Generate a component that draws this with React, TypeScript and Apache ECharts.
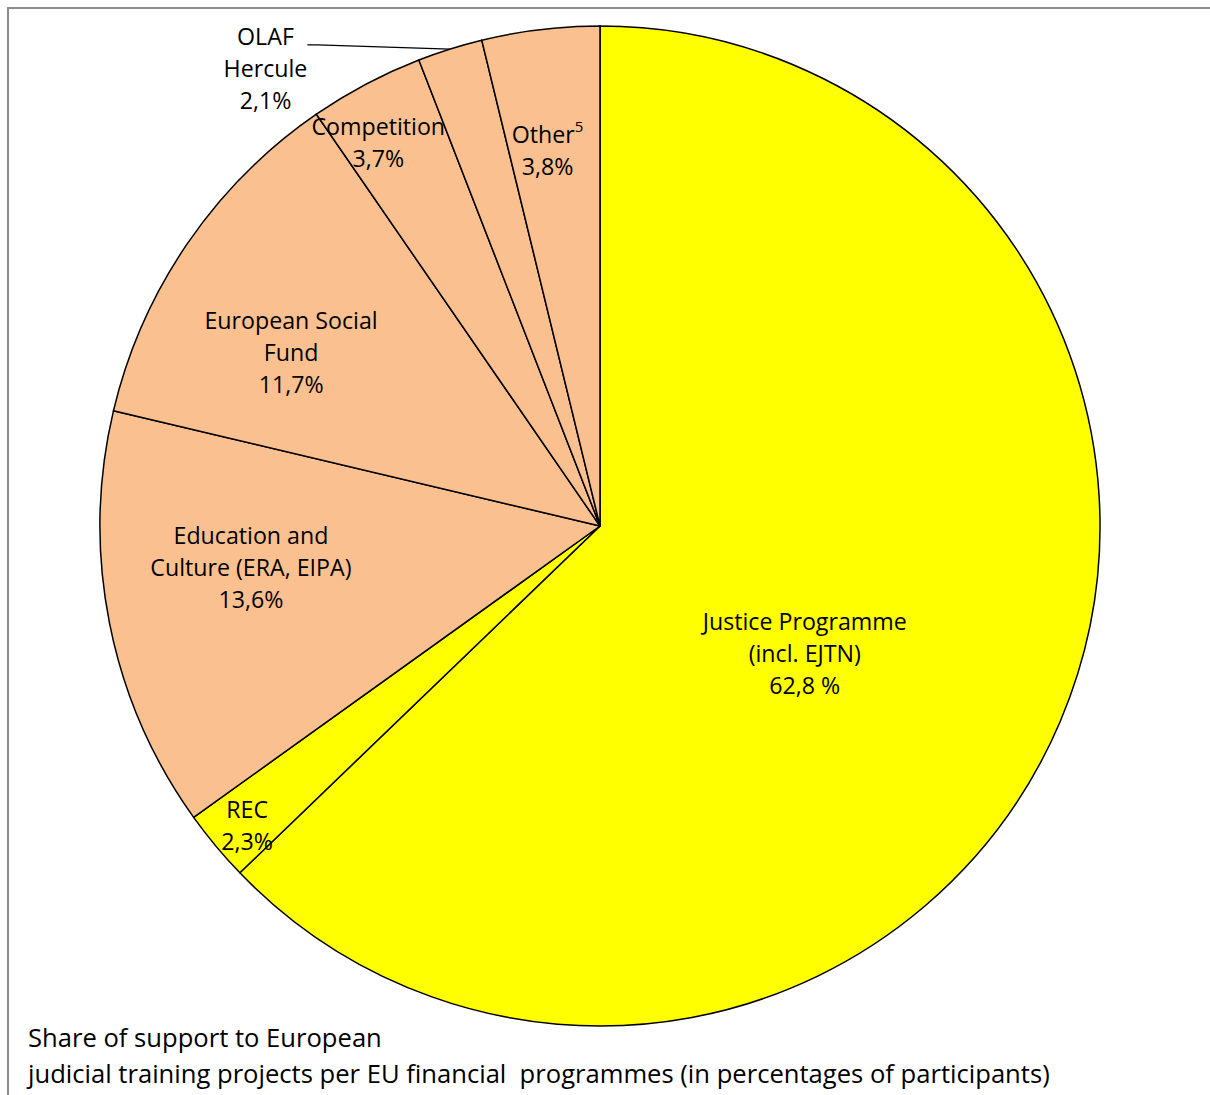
import React, { useEffect, useRef } from 'react';
import * as echarts from 'echarts';

// ---- data ----
const categories = [
  'Justice Programme\n(incl. EJTN)',
  'REC',
  'Education and\nCulture (ERA, EIPA)',
  'European Social\nFund',
  'Competition',
  'OLAF\nHercule',
  'Other{sup|5}',
];
const values = [62.8, 2.3, 13.6, 11.7, 3.7, 2.1, 3.8];
const percentSigns = [' %', '%', '%', '%', '%', '%', '%'];
const titleLines = [
  'Share of support to European',
  'judicial training projects per EU financial  programmes (in percentages of participants)',
];

// ---- styles / positions ----
const sliceColors = ['#FFFF00', '#FFFF00', '#FAC090', '#FAC090', '#FAC090', '#FAC090', '#FAC090'];
const labelAngleShift = [8.8, -0.5, 4.4, -5, -2.1, -17.35, -1.1];
const labelRadius = [0.482, 0.925, 0.703, 0.709, 0.887, 1.172, 0.759];
const outsideLabel = [false, false, false, false, false, true, false];

const CX = 600;
const CY = 526;
const R = 500;
const FONT = 'Open Sans';

function fmt(v: number) {
  return v.toFixed(1).replace('.', ',');
}

export default function App() {
  const ref = useRef<HTMLDivElement>(null);
  useEffect(() => {
    if (!ref.current) return;
    const chart = echarts.init(ref.current, undefined, { renderer: 'svg' });
    const total = values.reduce((a, b) => a + b, 0);
    const cum: number[] = [];
    let acc = 0;
    values.forEach((v) => {
      cum.push(acc);
      acc += v;
    });

    const data = values.map((v, i) => ({
      value: v,
      name: categories[i].replace('{sup|5}', '5'),
      itemStyle: { color: sliceColors[i] },
      label: outsideLabel[i]
        ? { position: 'outside', padding: [46, 0, 0, 0] }
        : { position: 'inside' },
      labelLine: outsideLabel[i]
        ? { show: true, length: 10, length2: 10, lineStyle: { color: '#000', width: 1.2 } }
        : { show: false },
    }));

    chart.setOption({
      animation: false,
      backgroundColor: '#ffffff',
      title: {
        text: titleLines.join('\n'),
        left: 28,
        top: 1019,
        padding: 0,
        textStyle: {
          fontFamily: FONT,
          fontSize: 25.6,
          lineHeight: 36,
          fontWeight: 'normal',
          color: '#000',
        },
      },
      graphic: [
        {
          type: 'rect',
          silent: true,
          z: -10,
          shape: { x: 8, y: 8, width: 1400, height: 1300 },
          style: { fill: 'none', stroke: '#8c8c8c', lineWidth: 2 },
        },
      ],
      series: [
        {
          type: 'pie',
          center: [CX, CY],
          radius: R,
          startAngle: 90,
          clockwise: true,
          avoidLabelOverlap: false,
          itemStyle: { borderColor: '#000', borderWidth: 1.5 },
          emphasis: { disabled: true },
          label: {
            show: true,
            color: '#000',
            fontFamily: FONT,
            fontSize: 23.2,
            lineHeight: 32,
            align: 'center',
            formatter: (p: any) =>
              `${categories[p.dataIndex]}\n${fmt(values[p.dataIndex])}${percentSigns[p.dataIndex]}`,
            rich: {
              sup: {
                fontFamily: FONT,
                fontSize: 15,
                lineHeight: 24,
                verticalAlign: 'top',
                color: '#000',
              },
            },
          },
          labelLayout: (params: any) => {
            const i = params.dataIndex;
            const mid = ((cum[i] + values[i] / 2) / total) * 360 + labelAngleShift[i];
            const a = (mid * Math.PI) / 180;
            const r = R * labelRadius[i];
            return {
              x: CX + r * Math.sin(a),
              y: CY - r * Math.cos(a),
              align: 'center',
              verticalAlign: 'middle',
            };
          },
          data,
        },
      ],
    });
    return () => chart.dispose();
  }, []);
  return (
    <div
      ref={ref}
      style={{ position: 'absolute', left: 0, top: 0, width: 1210, height: 1095 }}
    />
  );
}
